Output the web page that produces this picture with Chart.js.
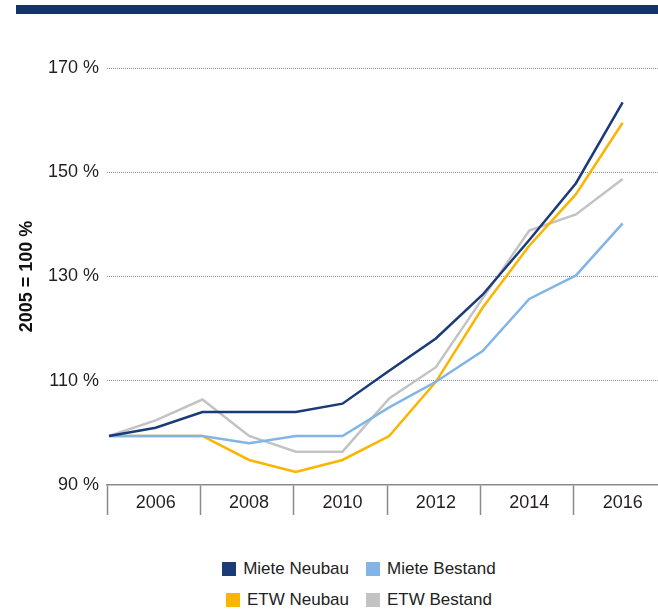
<!DOCTYPE html>
<html>
<head>
<meta charset="utf-8">
<script src="https://cdn.jsdelivr.net/npm/chart.js@4.4.1/dist/chart.umd.min.js"></script>
<style>
    body { margin: 0; background: #fff; width: 658px; height: 614px; position: relative; overflow: hidden; }
    #topbar { position: absolute; left: 16px; top: 5px; width: 642px; height: 9px; background: #14326f; }
    #wrap { position: absolute; left: 0; top: 0; width: 658px; height: 530px; }
    #legend { position: absolute; left: 0; top: 558px; width: 658px;
        font-family: 'Liberation Sans', Arial, sans-serif;
        font-size: 17px; color: #222; }
    .row { position: relative; height: 31px; }
    .item { position: absolute; top: 0; display: flex; align-items: center; height: 22px; white-space: nowrap; }
    .item .box { width: 14px; height: 14px; margin-right: 7px; }
    .left { right: 309px; }
    .right { left: 366px; }
</style>
</head>
<body>
<div id="topbar"></div>
<div id="wrap"><canvas id="chart" width="658" height="530"></canvas></div>
<div id="legend"></div>
<script>
const FONT = "'Liberation Sans', Arial, sans-serif";

// ========== DATA ==========
const years = [2005, 2006, 2007, 2008, 2009, 2010, 2011, 2012, 2013, 2014, 2015, 2016];
const labelYears = [2006, 2008, 2010, 2012, 2014, 2016];
const yTicks = [90, 110, 130, 150, 170];

const mieteNeubau   = [99.4, 101.0, 104.0, 104.0, 104.0, 105.6, 111.9, 118.1, 126.5, 137.0, 147.9, 163.4];
const mieteBestand  = [99.4, 99.4, 99.4, 98.0, 99.4, 99.4, 104.9, 109.8, 115.7, 125.7, 130.2, 140.2];
const etwNeubau     = [99.4, 99.4, 99.4, 94.8, 92.5, 94.8, 99.4, 109.8, 124.0, 135.9, 145.8, 159.5];
const etwBestand    = [99.4, 102.4, 106.4, 99.4, 96.4, 96.4, 106.6, 112.6, 125.8, 138.8, 141.9, 148.7];

const seriesNames  = ['Miete Neubau', 'Miete Bestand', 'ETW Neubau', 'ETW Bestand'];
const seriesValues = [mieteNeubau, mieteBestand, etwNeubau, etwBestand];
const seriesColors = ['#1b3a78', '#82b5e6', '#fbb400', '#c3c3c3'];

// box separators sit slightly left of odd years
const SEP_SHIFT = 0.043;

function toPoints(values) {
    return values.map((v, i) => ({ x: years[i], y: v }));
}

const datasets = seriesNames.map((name, i) => ({
    label: name,
    data: toPoints(seriesValues[i]),
    borderColor: seriesColors[i],
    backgroundColor: seriesColors[i],
    borderWidth: 2.5,
    pointRadius: 0,
    tension: 0,
    order: i === 0 ? 0 : i + 1
}));

new Chart(document.getElementById('chart'), {
    type: 'line',
    data: { datasets: datasets },
    options: {
        responsive: false,
        animation: false,
        layout: { padding: { top: 68, right: 0, left: 0, bottom: 0 } },
        plugins: {
            legend: { display: false },
            tooltip: { enabled: false }
        },
        scales: {
            x: {
                type: 'linear',
                min: years[0] - SEP_SHIFT,
                max: years[0] - SEP_SHIFT + 11.8,
                afterBuildTicks: function(scale) {
                    const t = [];
                    for (let y = years[0]; y < years[years.length - 1]; y += 2) {
                        t.push({ value: y - SEP_SHIFT });
                    }
                    labelYears.forEach(y => t.push({ value: y }));
                    t.sort((a, b) => a.value - b.value);
                    scale.ticks = t;
                },
                afterFit: function(scale) { scale.height = 45; },
                grid: {
                    display: true,
                    drawOnChartArea: false,
                    drawTicks: true,
                    tickLength: 30,
                    tickWidth: 1.5,
                    tickColor: function(ctx) {
                        return labelYears.includes(ctx.tick.value) ? 'rgba(0,0,0,0)' : '#8a8a8a';
                    }
                },
                border: { display: true, color: '#8a8a8a', width: 1.5 },
                ticks: {
                    autoSkip: false,
                    maxRotation: 0,
                    padding: -23,
                    color: '#231f20',
                    font: { family: FONT, size: 18 },
                    callback: function(value) {
                        return labelYears.includes(value) ? String(value) : '';
                    }
                }
            },
            y: {
                min: yTicks[0],
                max: yTicks[yTicks.length - 1],
                afterBuildTicks: function(scale) {
                    scale.ticks = yTicks.map(v => ({ value: v }));
                },
                afterFit: function(scale) { scale.width = 107; },
                grid: {
                    color: function(ctx) { return ctx.tick.value === yTicks[0] ? 'rgba(0,0,0,0)' : '#8c8c8c'; },
                    lineWidth: 1,
                    drawTicks: false
                },
                border: { display: false, dash: [1, 1] },
                ticks: {
                    padding: 8,
                    color: '#231f20',
                    font: { family: FONT, size: 18 },
                    callback: function(value) { return value + ' %'; }
                },
                title: {
                    display: true,
                    text: '2005 = 100 %',
                    color: '#111',
                    font: { family: FONT, size: 18, weight: 'bold' },
                    padding: { top: 16, bottom: 0 }
                }
            }
        }
    }
});

// legend: two columns, first column right-aligned
const legend = document.getElementById('legend');
for (let r = 0; r < 2; r++) {
    const row = document.createElement('div');
    row.className = 'row';
    [0, 1].forEach(c => {
        const i = r * 2 + c;
        const item = document.createElement('div');
        item.className = 'item ' + (c === 0 ? 'left' : 'right');
        item.innerHTML = `<span class="box" style="background:${seriesColors[i]}"></span><span>${seriesNames[i]}</span>`;
        row.appendChild(item);
    });
    legend.appendChild(row);
}
</script>
</body>
</html>
